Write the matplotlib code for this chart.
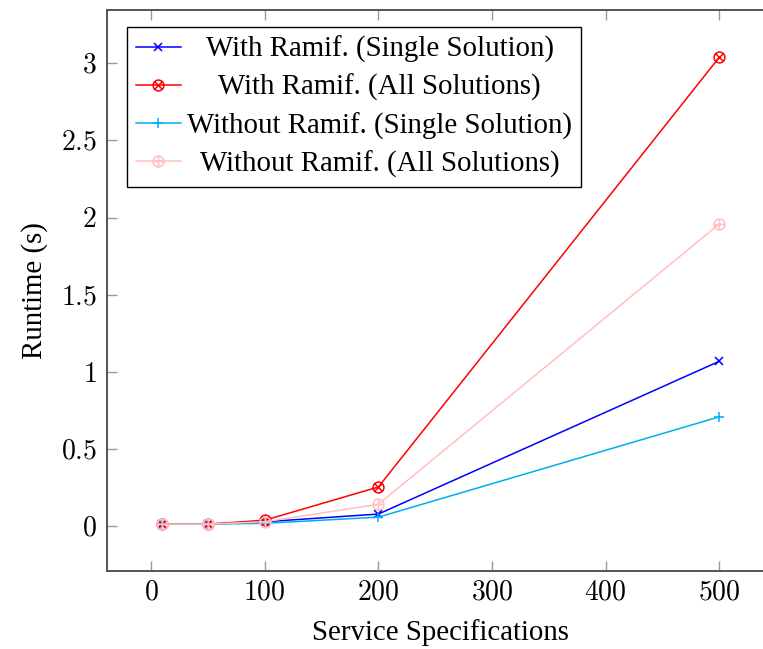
import numpy as np
import matplotlib
matplotlib.use("Agg")
import matplotlib.pyplot as plt
from matplotlib.path import Path
from matplotlib.ticker import FuncFormatter, FixedLocator
from matplotlib.offsetbox import VPacker

plt.rcParams['font.family'] = ['Liberation Serif', 'DejaVu Serif']
plt.rcParams['mathtext.fontset'] = 'cm'

# ---- data ----
specs = [10, 50, 100, 200, 500]
with_single = [0.015, 0.015, 0.03, 0.08, 1.07]
with_all = [0.015, 0.015, 0.04, 0.255, 3.04]
without_single = [0.015, 0.015, 0.02, 0.06, 0.71]
without_all = [0.015, 0.015, 0.03, 0.143, 1.96]
labels = ["With Ramif. (Single Solution)", "With Ramif. (All Solutions)",
          "Without Ramif. (Single Solution)", "Without Ramif. (All Solutions)"]
xticks = [0, 100, 200, 300, 400, 500]
yticks = [0, 0.5, 1, 1.5, 2, 2.5, 3]

# ---- markers ----
circ = Path.unit_circle()
s = np.sqrt(0.5)
xcross = Path([[-s, -s], [s, s], [-s, s], [s, -s]],
              [Path.MOVETO, Path.LINETO, Path.MOVETO, Path.LINETO])
pcross = Path([[-1, 0], [1, 0], [0, -1], [0, 1]],
              [Path.MOVETO, Path.LINETO, Path.MOVETO, Path.LINETO])
otimes = Path.make_compound_path(circ, xcross)
oplus = Path.make_compound_path(circ, pcross)

fig = plt.figure(figsize=(7.63, 6.49), dpi=100)
ax = fig.add_axes([0.1397, 0.1205, 0.8763, 0.8636])

ax.plot(specs, with_single, color='#0000ff', lw=1.1, marker='x', ms=5.5, mew=1.1, label=labels[0])
ax.plot(specs, with_all, color='#ff0000', lw=1.1, marker=otimes, ms=7.8, mew=1.1, mfc='none', label=labels[1])
ax.plot(specs, without_single, color='#00aeef', lw=1.1, marker='+', ms=7.5, mew=1.1, label=labels[2])
ax.plot(specs, without_all, color='#ffbfbf', lw=1.1, marker=oplus, ms=7.8, mew=1.1, mfc='none', label=labels[3])

ax.set_xlim(-39, 549)
ax.set_ylim(-0.2875, 3.3425)
ax.xaxis.set_major_locator(FixedLocator(xticks))
ax.yaxis.set_major_locator(FixedLocator(yticks))
fmt = FuncFormatter(lambda v, p: r'$%g$' % v)
ax.xaxis.set_major_formatter(fmt)
ax.yaxis.set_major_formatter(fmt)
ax.tick_params(axis='both', direction='in', length=7, width=1, color='#999999',
               labelsize=20, pad=7, top=True, right=True)

for sp in ax.spines.values():
    sp.set_color('#555555')
    sp.set_linewidth(1.4)

ax.set_xlabel('Service Specifications', fontsize=20.8, labelpad=10)
ax.set_ylabel('Runtime (s)', fontsize=20.8, labelpad=9)

leg = ax.legend(loc='upper left', bbox_to_anchor=(0.031, 0.970), borderaxespad=0,
                fontsize=20.8, frameon=True, fancybox=False, framealpha=1,
                edgecolor='black', handlelength=1.55, handletextpad=0.22,
                labelspacing=0.38, borderpad=0.3)
leg.get_frame().set_linewidth(1.0)

# center legend texts like pgfplots
fig.canvas.draw()
r = fig.canvas.get_renderer()
col = leg._legend_handle_box.get_children()[0]
rows = col.get_children()
tas = [row.get_children()[1] for row in rows]
W = max(ta.get_bbox(r).width for ta in tas)
for row, ta in zip(rows, tas):
    row._children[1] = VPacker(pad=0, sep=0, width=W, align='center', children=[ta])

fig.savefig('out.png', dpi=100)
